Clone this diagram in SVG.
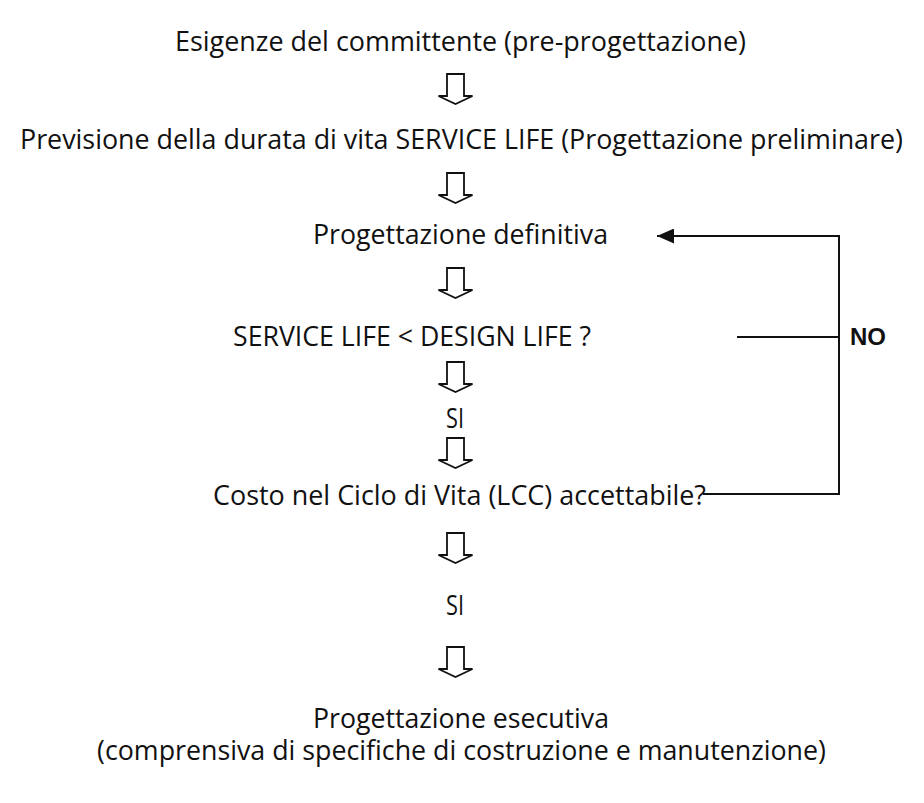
<svg xmlns="http://www.w3.org/2000/svg" width="924" height="803" viewBox="0 0 924 803">
  <style>
    .t { font-family: "Open Sans", "Noto Sans", "DejaVu Sans", sans-serif; font-size: 27px; fill: #111; }
    .no { font-family: "Liberation Sans", Arial, sans-serif; font-size: 24px; font-weight: bold; fill: #111; }
    .blk { fill: #fff; stroke: #111; stroke-width: 1.8; stroke-linejoin: miter; }
    .ln { fill: none; stroke: #111; stroke-width: 2; }
  </style>
  <defs>
    <path id="blockArrow" class="blk" d="M -8.5,0 H 8.5 V 22 H 17 L 0 30 L -17 22 H -8.5 Z"/>
    <marker id="ah" markerUnits="userSpaceOnUse" markerWidth="17" markerHeight="15" viewBox="0 0 17 15" refX="17" refY="7.5" orient="auto">
      <path d="M0,0 L17,7.5 L0,15 Z" fill="#111"/>
    </marker>
  </defs>
  <rect width="924" height="803" fill="#fff"/>

  <g id="n1"><text class="t" x="175" y="51" textLength="571" lengthAdjust="spacingAndGlyphs">Esigenze del committente (pre-progettazione)</text></g>
  <g id="a1"><use href="#blockArrow" x="455.5" y="74"/></g>
  <g id="n2"><text class="t" x="20" y="149" textLength="883" lengthAdjust="spacingAndGlyphs">Previsione della durata di vita SERVICE LIFE (Progettazione preliminare)</text></g>
  <g id="a2"><use href="#blockArrow" x="455.5" y="173"/></g>
  <g id="n3"><text class="t" x="313" y="244" textLength="295" lengthAdjust="spacingAndGlyphs">Progettazione definitiva</text></g>
  <g id="a3"><use href="#blockArrow" x="455.5" y="268"/></g>
  <g id="n4"><text class="t" x="233" y="346" textLength="358" lengthAdjust="spacingAndGlyphs">SERVICE LIFE &lt; DESIGN LIFE ?</text></g>
  <g id="a4"><use href="#blockArrow" x="455.5" y="362"/></g>
  <g id="n5"><text class="t" x="446" y="428" textLength="18" lengthAdjust="spacingAndGlyphs">SI</text></g>
  <g id="a5"><use href="#blockArrow" x="455.5" y="438"/></g>
  <g id="n6"><text class="t" x="213" y="505" textLength="493" lengthAdjust="spacingAndGlyphs">Costo nel Ciclo di Vita (LCC) accettabile?</text></g>
  <g id="a6"><use href="#blockArrow" x="455.5" y="533"/></g>
  <g id="n7"><text class="t" x="446" y="615" textLength="18" lengthAdjust="spacingAndGlyphs">SI</text></g>
  <g id="a7"><use href="#blockArrow" x="455.5" y="647"/></g>
  <g id="n8">
    <text class="t"><tspan x="313" y="728" textLength="296" lengthAdjust="spacingAndGlyphs">Progettazione esecutiva</tspan><tspan x="97" y="760" textLength="729" lengthAdjust="spacingAndGlyphs">(comprensiva di specifiche di costruzione e manutenzione)</tspan></text>
  </g>

  <g id="connectors">
    <path class="ln" d="M703,494 H839 V236 H657" marker-end="url(#ah)"/>
    <path class="ln" d="M737,337 H839"/>
  </g>
  <g id="label-no"><text class="no" x="850" y="345">NO</text></g>
</svg>
